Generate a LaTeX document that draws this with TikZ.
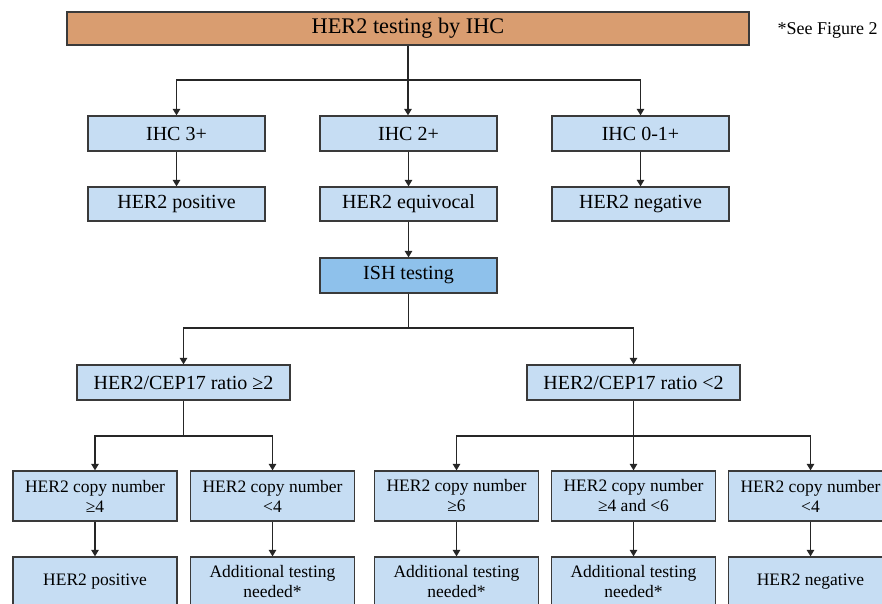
\documentclass[tikz,border=0pt]{standalone}
\usepackage{fontspec}
\setmainfont{Liberation Serif}
\usetikzlibrary{arrows.meta}

\definecolor{boxblue}{HTML}{C6DDF3}
\definecolor{ishblue}{HTML}{8EC1EB}
\definecolor{topfill}{HTML}{D99D70}
\definecolor{edge}{HTML}{3A3A3A}

\tikzset{
  stage/.style={draw=edge, line width=1.3pt, fill=boxblue, rectangle, inner sep=0pt,
    align=center, font=\fontsize{17.5}{20}\selectfont},
  wide/.style={stage, minimum width=177pt, minimum height=35pt, font=\fontsize{20}{22}\selectfont},
  ratio/.style={stage, minimum width=213pt, minimum height=35pt, font=\fontsize{20}{22}\selectfont},
  cell/.style={stage, minimum width=164pt, minimum height=50pt},
  link/.style={draw=black!85, line width=1.2pt},
  arr/.style={link, -{Triangle[length=6.5pt,width=7.5pt]}},
}

\begin{document}
\begin{tikzpicture}[x=1pt, y=-1pt]
  \useasboundingbox (0,0) rectangle (882,603);
  \begin{scope}
  \clip (0,0) rectangle (882,603);

  % title bar and note
  \node[stage, fill=topfill, minimum width=682pt, minimum height=33pt,
        font=\fontsize{22.3}{24}\selectfont] (top) at (408,28.5) {HER2 testing by IHC};
  \node[font=\fontsize{18}{20}\selectfont, anchor=west] (note) at (774,30) {*See Figure 2};

  % IHC scores
  \node[wide] (ihc3) at (176.5,133.5) {IHC 3+};
  \node[wide] (ihc2) at (408.5,133.5) {IHC 2+};
  \node[wide] (ihc0) at (640.5,133.5) {IHC 0-1+};

  % IHC results
  \node[wide, minimum height=34pt] (pos1) at (176.5,204) {HER2 positive};
  \node[wide, minimum height=34pt] (equ)  at (408.5,204) {HER2 equivocal};
  \node[wide, minimum height=34pt] (neg1) at (640.5,204) {HER2 negative};

  \node[wide, fill=ishblue] (ish) at (408.5,275.5) {ISH testing};

  % ISH ratio
  \node[ratio] (rhi) at (183.5,382.5) {HER2/CEP17 ratio ≥2};
  \node[ratio] (rlo) at (633.5,382.5) {HER2/CEP17 ratio <2};

  % copy number
  \node[cell] (c1) at (95,496)    {HER2 copy number\\≥4};
  \node[cell] (c2) at (272.5,496) {HER2 copy number\\<4};
  \node[cell] (c3) at (456.5,496) {HER2 copy number\\≥6};
  \node[cell] (c4) at (633.5,496) {HER2 copy number\\≥4 and <6};
  \node[cell] (c5) at (810.5,496) {HER2 copy number\\<4};

  % outcomes
  \node[cell] (o1) at (95,582)    {HER2 positive};
  \node[cell] (o2) at (272.5,582) {Additional testing\\needed*};
  \node[cell] (o3) at (456.5,582) {Additional testing\\needed*};
  \node[cell] (o4) at (633.5,582) {Additional testing\\needed*};
  \node[cell] (o5) at (810.5,582) {HER2 negative};

  % branch points
  \coordinate (j1) at (408,80);
  \coordinate (j2) at (408.5,328);
  \coordinate (j3) at (183.5,436);
  \coordinate (j4) at (633.5,436);

  \draw[link] (top.south -| j1) -- (j1);
  \draw[arr] (j1) -| (ihc3);
  \draw[arr] (j1) -- (ihc2.north -| j1);
  \draw[arr] (j1) -| (ihc0);

  \draw[arr] (ihc3) -- (pos1);
  \draw[arr] (ihc2) -- (equ);
  \draw[arr] (ihc0) -- (neg1);
  \draw[arr] (equ) -- (ish);

  \draw[link] (ish) -- (j2);
  \draw[arr] (j2) -| (rhi);
  \draw[arr] (j2) -| (rlo);

  \draw[link] (rhi) -- (j3);
  \draw[arr] (j3) -| (c1);
  \draw[arr] (j3) -| (c2);

  \draw[link] (rlo) -- (j4);
  \draw[arr] (j4) -| (c3);
  \draw[arr] (j4) -- (c4);
  \draw[arr] (j4) -| (c5);

  \draw[arr] (c1) -- (o1);
  \draw[arr] (c2) -- (o2);
  \draw[arr] (c3) -- (o3);
  \draw[arr] (c4) -- (o4);
  \draw[arr] (c5) -- (o5);
  \end{scope}
\end{tikzpicture}
\end{document}
